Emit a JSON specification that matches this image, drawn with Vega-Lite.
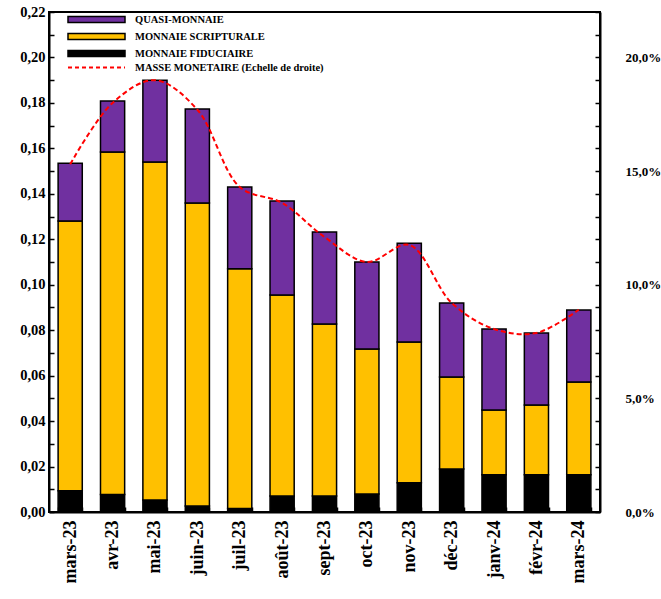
{
  "$schema": "https://vega.github.io/schema/vega-lite/v6.json",
  "width": 551,
  "height": 500,
  "autosize": {"type": "none"},
  "padding": {"left": 49, "top": 12, "right": 61, "bottom": 87},
  "config": {
    "view": {"stroke": "black", "strokeWidth": 2},
    "font": "Liberation Serif",
    "axis": {
      "domainColor": "black",
      "domainWidth": 2,
      "tickColor": "black",
      "tickWidth": 1.5,
      "labelFont": "Liberation Serif",
      "labelFontWeight": "bold",
      "labelColor": "black",
      "grid": false
    },
    "legend": {
      "labelFont": "Liberation Serif",
      "labelFontWeight": "bold",
      "labelColor": "black",
      "labelFontSize": 10.5,
      "labelLimit": 400
    }
  },
  "datasets": {
    "barres": [
      {"mois": "mars-23", "composante": "MONNAIE FIDUCIAIRE", "valeur": 0.0094},
      {"mois": "mars-23", "composante": "MONNAIE SCRIPTURALE", "valeur": 0.1186},
      {"mois": "mars-23", "composante": "QUASI-MONNAIE", "valeur": 0.0255},
      {"mois": "avr-23", "composante": "MONNAIE FIDUCIAIRE", "valeur": 0.0077},
      {"mois": "avr-23", "composante": "MONNAIE SCRIPTURALE", "valeur": 0.1507},
      {"mois": "avr-23", "composante": "QUASI-MONNAIE", "valeur": 0.0224},
      {"mois": "mai-23", "composante": "MONNAIE FIDUCIAIRE", "valeur": 0.0053},
      {"mois": "mai-23", "composante": "MONNAIE SCRIPTURALE", "valeur": 0.1487},
      {"mois": "mai-23", "composante": "QUASI-MONNAIE", "valeur": 0.036},
      {"mois": "juin-23", "composante": "MONNAIE FIDUCIAIRE", "valeur": 0.0026},
      {"mois": "juin-23", "composante": "MONNAIE SCRIPTURALE", "valeur": 0.1334},
      {"mois": "juin-23", "composante": "QUASI-MONNAIE", "valeur": 0.0413},
      {"mois": "juil-23", "composante": "MONNAIE FIDUCIAIRE", "valeur": 0.0015},
      {"mois": "juil-23", "composante": "MONNAIE SCRIPTURALE", "valeur": 0.1055},
      {"mois": "juil-23", "composante": "QUASI-MONNAIE", "valeur": 0.036},
      {"mois": "août-23", "composante": "MONNAIE FIDUCIAIRE", "valeur": 0.007},
      {"mois": "août-23", "composante": "MONNAIE SCRIPTURALE", "valeur": 0.0885},
      {"mois": "août-23", "composante": "QUASI-MONNAIE", "valeur": 0.0413},
      {"mois": "sept-23", "composante": "MONNAIE FIDUCIAIRE", "valeur": 0.007},
      {"mois": "sept-23", "composante": "MONNAIE SCRIPTURALE", "valeur": 0.0757},
      {"mois": "sept-23", "composante": "QUASI-MONNAIE", "valeur": 0.0405},
      {"mois": "oct-23", "composante": "MONNAIE FIDUCIAIRE", "valeur": 0.0079},
      {"mois": "oct-23", "composante": "MONNAIE SCRIPTURALE", "valeur": 0.0638},
      {"mois": "oct-23", "composante": "QUASI-MONNAIE", "valeur": 0.0383},
      {"mois": "nov-23", "composante": "MONNAIE FIDUCIAIRE", "valeur": 0.0129},
      {"mois": "nov-23", "composante": "MONNAIE SCRIPTURALE", "valeur": 0.0619},
      {"mois": "nov-23", "composante": "QUASI-MONNAIE", "valeur": 0.0435},
      {"mois": "déc-23", "composante": "MONNAIE FIDUCIAIRE", "valeur": 0.0189},
      {"mois": "déc-23", "composante": "MONNAIE SCRIPTURALE", "valeur": 0.0405},
      {"mois": "déc-23", "composante": "QUASI-MONNAIE", "valeur": 0.0326},
      {"mois": "janv-24", "composante": "MONNAIE FIDUCIAIRE", "valeur": 0.0164},
      {"mois": "janv-24", "composante": "MONNAIE SCRIPTURALE", "valeur": 0.0285},
      {"mois": "janv-24", "composante": "QUASI-MONNAIE", "valeur": 0.0356},
      {"mois": "févr-24", "composante": "MONNAIE FIDUCIAIRE", "valeur": 0.0164},
      {"mois": "févr-24", "composante": "MONNAIE SCRIPTURALE", "valeur": 0.0307},
      {"mois": "févr-24", "composante": "QUASI-MONNAIE", "valeur": 0.0317},
      {"mois": "mars-24", "composante": "MONNAIE FIDUCIAIRE", "valeur": 0.0164},
      {"mois": "mars-24", "composante": "MONNAIE SCRIPTURALE", "valeur": 0.0408},
      {"mois": "mars-24", "composante": "QUASI-MONNAIE", "valeur": 0.0317}
    ],
    "ligne": [
      {"mois": "mars-23", "masse": 0.153},
      {"mois": "avr-23", "masse": 0.180},
      {"mois": "mai-23", "masse": 0.190},
      {"mois": "juin-23", "masse": 0.177},
      {"mois": "juil-23", "masse": 0.143},
      {"mois": "août-23", "masse": 0.136},
      {"mois": "sept-23", "masse": 0.121},
      {"mois": "oct-23", "masse": 0.110},
      {"mois": "nov-23", "masse": 0.1175},
      {"mois": "déc-23", "masse": 0.092},
      {"mois": "janv-24", "masse": 0.0805},
      {"mois": "févr-24", "masse": 0.0788},
      {"mois": "mars-24", "masse": 0.089}
    ]
  },
  "encoding": {
    "x": {
      "field": "mois",
      "type": "nominal",
      "sort": null,
      "scale": {"paddingInner": 0.43, "paddingOuter": 0.215},
      "axis": {
        "title": null,
        "labelAngle": 270,
        "labelAlign": "right",
        "labelBaseline": "middle",
        "labelFontSize": 18,
        "tickBand": "extent",
        "tickSize": -5,
        "labelPadding": 13
      }
    }
  },
  "layer": [
    {
      "data": {"name": "barres"},
      "mark": {"type": "bar", "stroke": "black", "strokeWidth": 1.5},
      "encoding": {
        "y": {
          "field": "valeur",
          "type": "quantitative",
          "stack": "zero",
          "scale": {"domain": [0, 0.22], "nice": false},
          "axis": {
            "title": null,
            "values": [0, 0.01, 0.02, 0.03, 0.04, 0.05, 0.06, 0.07, 0.08, 0.09, 0.1, 0.11, 0.12, 0.13, 0.14, 0.15, 0.16, 0.17, 0.18, 0.19, 0.2, 0.21, 0.22],
            "labelExpr": "round(datum.value*100) % 2 == 0 ? replace(format(datum.value, '.2f'), '.', ',') : ''",
            "labelFontSize": 14.5,
            "tickSize": -5,
            "labelPadding": 9
          }
        },
        "color": {
          "field": "composante",
          "type": "nominal",
          "scale": {
            "domain": ["QUASI-MONNAIE", "MONNAIE SCRIPTURALE", "MONNAIE FIDUCIAIRE"],
            "range": ["#7030A0", "#FFC000", "#000000"]
          },
          "legend": {
            "title": null,
            "orient": "none",
            "legendX": 41.5,
            "legendY": 1.5,
            "padding": 0,
            "symbolType": "M-5.7,-0.6H5.7V0.6H-5.7Z",
            "symbolSize": 100,
            "symbolStrokeColor": "black",
            "symbolStrokeWidth": 1.5,
            "symbolOpacity": 1,
            "labelOffset": 32.5,
            "rowPadding": 5
          }
        },
        "order": {"field": "composante", "sort": "ascending"}
      }
    },
    {
      "data": {"name": "ligne"},
      "mark": {"type": "line", "interpolate": "catmull-rom", "strokeDash": [5, 3], "strokeWidth": 2},
      "encoding": {
        "y": {
          "field": "masse",
          "type": "quantitative",
          "scale": {"domain": [0, 0.22], "nice": false},
          "axis": {
            "orient": "right",
            "title": null,
            "values": [0, 0.01, 0.02, 0.03, 0.04, 0.05, 0.06, 0.07, 0.08, 0.09, 0.1, 0.11, 0.12, 0.13, 0.14, 0.15, 0.16, 0.17, 0.18, 0.19, 0.2, 0.21, 0.22],
            "labelExpr": "round(datum.value*100) % 5 == 0 ? replace(format(datum.value, '.1%'), '.', ',') : ''",
            "labelFontSize": 13,
            "labelAlign": "left",
            "tickSize": -5,
            "labelPadding": 30
          }
        },
        "stroke": {
          "datum": "MASSE MONETAIRE (Echelle de droite)",
          "type": "nominal",
          "scale": {"range": ["#FF0000"]},
          "legend": {
            "title": null,
            "orient": "none",
            "legendX": 41.5,
            "legendY": 49.5,
            "padding": 0,
            "symbolType": "M-5.7,0H5.7",
            "symbolSize": 100,
            "symbolStrokeWidth": 2,
            "symbolDash": [4, 3],
            "labelOffset": 32.5
          }
        }
      }
    }
  ],
  "resolve": {"scale": {"y": "independent"}}
}
